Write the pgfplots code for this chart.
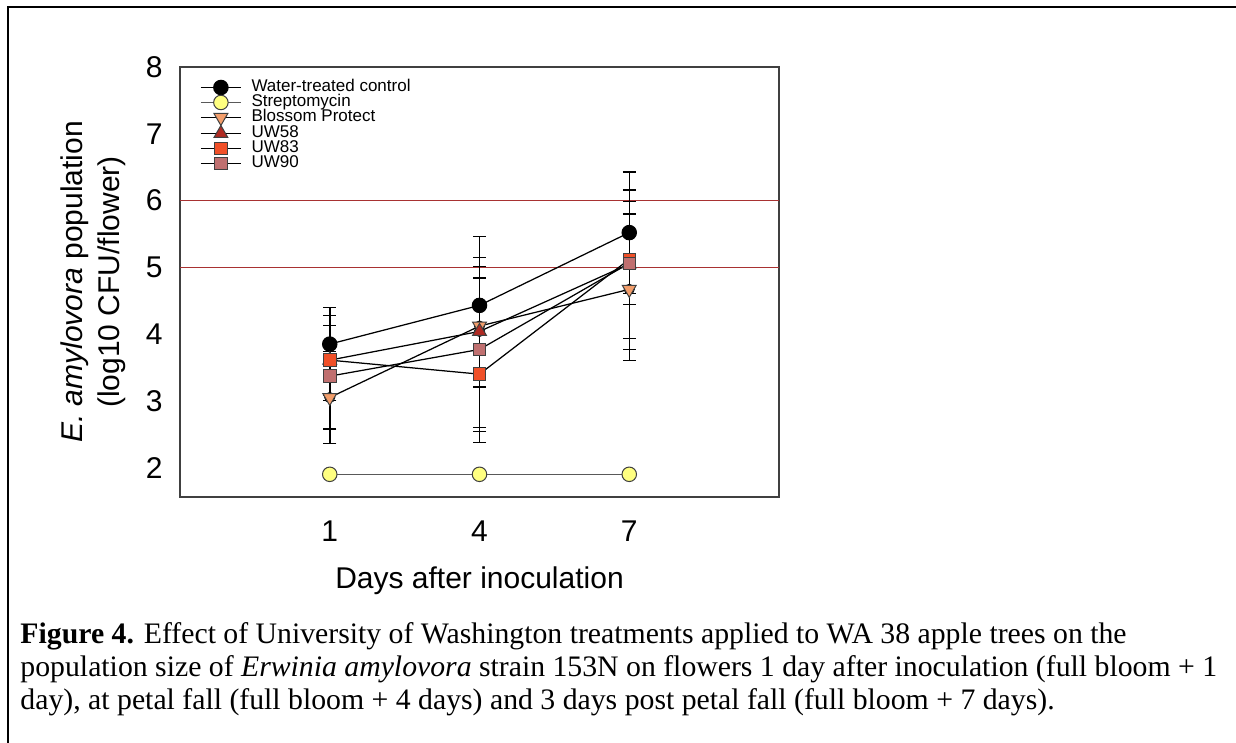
\documentclass[border=0pt]{standalone}
\usepackage{fontspec}
\setmainfont{Liberation Sans}
\newfontfamily\capfont{Liberation Serif}
\usepackage{pgfplots}
\usepackage{pgfplotstable}
\pgfplotsset{compat=1.18}

\definecolor{strepfill}{HTML}{FFFF80}
\definecolor{blossom}{HTML}{F39E6B}
\definecolor{uwA}{HTML}{B02A22}
\definecolor{uwB}{HTML}{F05028}
\definecolor{uwC}{HTML}{C07070}
\definecolor{refline}{HTML}{A83232}

% x = day, y = mean, ep / em = upper / lower error bar length
\pgfplotstableread{
x y ep em
1 3.85 0.55 0.55
4 4.43 1.03 1.03
7 5.52 0.91 0.91
}\water
\pgfplotstableread{
x y
1 1.90
4 1.90
7 1.90
}\strep
\pgfplotstableread{
x y ep em
1 3.05 0.69 0.69
4 4.12 0.89 0.91
7 4.67 0.90 1.07
}\blossomtab
\pgfplotstableread{
x y ep em
1 3.61 0.67 0.60
4 4.04 0.80 1.50
7 5.05 1.11 1.12
}\uwAtab
\pgfplotstableread{
x y ep em
1 3.61 0.52 0.52
4 3.40 1.02 1.02
7 5.12 0.68 0.68
}\uwBtab
\pgfplotstableread{
x y ep em
1 3.37 0.76 0.79
4 3.77 1.38 1.17
7 5.06 0.93 1.29
}\uwCtab

\pgfplotsset{
  errplot/.style={forget plot, only marks, mark=none, color=black,
    error bars/.cd, y dir=both, y explicit,
    error bar style={draw=black, line width=0.6pt},
    error mark options={rotate=90, draw=black, line width=0.55pt, mark size=2.6pt}},
}

\begin{document}
\begin{tikzpicture}
\path[use as bounding box] (0pt,0pt) rectangle (494.4pt,-296.8pt);
\draw[line width=0.8pt] (3.2pt,-300pt) -- (3.2pt,-2.8pt) -- (500pt,-2.8pt);

\begin{axis}[
  at={(72pt,-198.8pt)}, anchor=south west,
  scale only axis, width=239.6pt, height=172pt,
  xmin=-2, xmax=10, ymin=1.56, ymax=8,
  xtick={1,4,7}, ytick={2,3,4,5,6,7,8},
  major tick length=0pt,
  axis line style={draw=black!75, line width=0.6pt},
  tick label style={font=\fontsize{12}{14}\selectfont, inner sep=0pt},
  /pgf/number format/assume math mode=true,
  yticklabel style={xshift=-6.8pt},
  xticklabel style={yshift=-9.2pt},
  xlabel={Days after inoculation},
  xlabel style={font=\fontsize{12}{14}\selectfont, at={([yshift=-33.6pt]axis description cs:0.5,0)}, anchor=center},
  ylabel={\textit{E. amylovora} population\\(log10 CFU/flower)},
  ylabel style={font=\fontsize{12}{14.8}\selectfont, align=center, at={([xshift=-34.6pt]axis description cs:0,0.5)}, anchor=center},
  legend style={at={(rel axis cs:0.033,0.971)}, anchor=north west, draw=none, fill=none,
    inner sep=0pt, row sep=0pt, column sep=4pt,
    font=\fontsize{6.8}{7}\selectfont,
    nodes={inner sep=0pt, anchor=west, text height=4.7pt, text depth=1.3pt}},
  legend cell align=left,
  legend image code/.code={\draw[mark repeat=2,mark phase=2] plot coordinates {(0pt,0pt)(8pt,0pt)(16pt,0pt)};},
]
\addplot[forget plot, color=refline, line width=0.5pt] coordinates {(-2,5) (10,5)};
\addplot[forget plot, color=refline, line width=0.5pt] coordinates {(-2,6) (10,6)};

\addplot[errplot] table[x=x,y=y,y error plus=ep,y error minus=em] {\water};
\addplot[errplot] table[x=x,y=y,y error plus=ep,y error minus=em] {\blossomtab};
\addplot[errplot] table[x=x,y=y,y error plus=ep,y error minus=em] {\uwAtab};
\addplot[errplot] table[x=x,y=y,y error plus=ep,y error minus=em] {\uwBtab};
\addplot[errplot] table[x=x,y=y,y error plus=ep,y error minus=em] {\uwCtab};

\addplot[color=black, line width=0.5pt, mark=*, mark size=2.9pt, mark options={fill=black, draw=black, line width=0.4pt}] table[x=x,y=y] {\water};
\addlegendentry{Water-treated control}
\addplot[color=black!65, line width=0.5pt, mark=*, mark size=2.9pt, mark options={fill=strepfill, draw=black!75, line width=0.4pt}] table[x=x,y=y] {\strep};
\addlegendentry{Streptomycin}
\addplot[color=black, line width=0.5pt, mark=triangle*, mark size=3.2pt, mark options={rotate=180, fill=blossom, draw=black!75, line width=0.4pt}] table[x=x,y=y] {\blossomtab};
\addlegendentry{Blossom Protect}
\addplot[color=black, line width=0.5pt, mark=triangle*, mark size=3.2pt, mark options={fill=uwA, draw=black!75, line width=0.4pt}] table[x=x,y=y] {\uwAtab};
\addlegendentry{UW58}
\addplot[color=black, line width=0.5pt, mark=square*, mark size=2.5pt, mark options={fill=uwB, draw=black!75, line width=0.4pt}] table[x=x,y=y] {\uwBtab};
\addlegendentry{UW83}
\addplot[color=black, line width=0.5pt, mark=square*, mark size=2.5pt, mark options={fill=uwC, draw=black!75, line width=0.4pt}] table[x=x,y=y] {\uwCtab};
\addlegendentry{UW90}
\end{axis}

\begin{scope}[every node/.style={anchor=base west, inner sep=0pt, font=\capfont\fontsize{11.9}{13.2}\selectfont}]
\node at (8pt,-257.2pt) {\textbf{Figure 4.} Effect of University of Washington treatments applied to WA 38 apple trees on the};
\node at (8pt,-270.4pt) {population size of \textit{Erwinia amylovora} strain 153N on flowers 1 day after inoculation (full bloom + 1};
\node at (8pt,-283.6pt) {day), at petal fall (full bloom + 4 days) and 3 days post petal fall (full bloom + 7 days).};
\end{scope}
\end{tikzpicture}
\end{document}
